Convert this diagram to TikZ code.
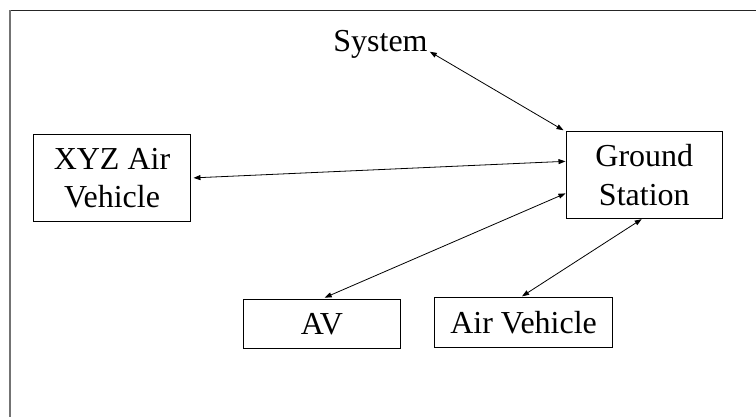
\documentclass[tikz,border=0pt]{standalone}
\usepackage{fontspec}
\setmainfont{Liberation Serif}
\usetikzlibrary{arrows.meta}
\begin{document}
\begin{tikzpicture}[x=1pt,y=-1pt,
  box/.style={draw=black,line width=0.9pt,align=center,inner sep=0pt,
    font=\fontsize{32}{38.4}\selectfont},
  link/.style={line width=0.8pt,{Triangle[length=7pt,width=5pt]}-{Triangle[length=7pt,width=5pt]}}]
\useasboundingbox (0,0) rectangle (756,416);
% outer frame (only top and left edges are visible)
\draw[line width=1pt,black!85] (10,10.5) -- (760,10.5);
\draw[line width=2pt,black!55] (10,10) -- (10,420);
% nodes
\node[box,minimum width=157pt,minimum height=87pt] (xyz) at (112,178) {XYZ Air\\Vehicle};
\node[box,minimum width=156.7pt,minimum height=87pt] (gs) at (644.3,175.2) {Ground\\Station};
\node[box,minimum width=156.7pt,minimum height=49pt] (av) at (321.9,323.8) {AV};
\node[box,minimum width=177.4pt,minimum height=49.6pt] (airv) at (523.6,322.5) {Air Vehicle};
\node[font=\fontsize{32}{38.4}\selectfont,inner sep=2pt,anchor=base] (sys) at (380.5,51.7) {System};
% connectors
\draw[link] (sys.base east) -- ([xshift=-2pt,yshift=1pt]gs.north west);
\draw[link,shorten <=2.5pt] (xyz.east) -- (gs.170);
\draw[link,shorten <=3pt] (av.north) -- (gs.193);
\draw[link,shorten <=1.7pt] ([xshift=-3pt]airv.north) -- ([xshift=-2.6pt]gs.south);
\end{tikzpicture}
\end{document}
